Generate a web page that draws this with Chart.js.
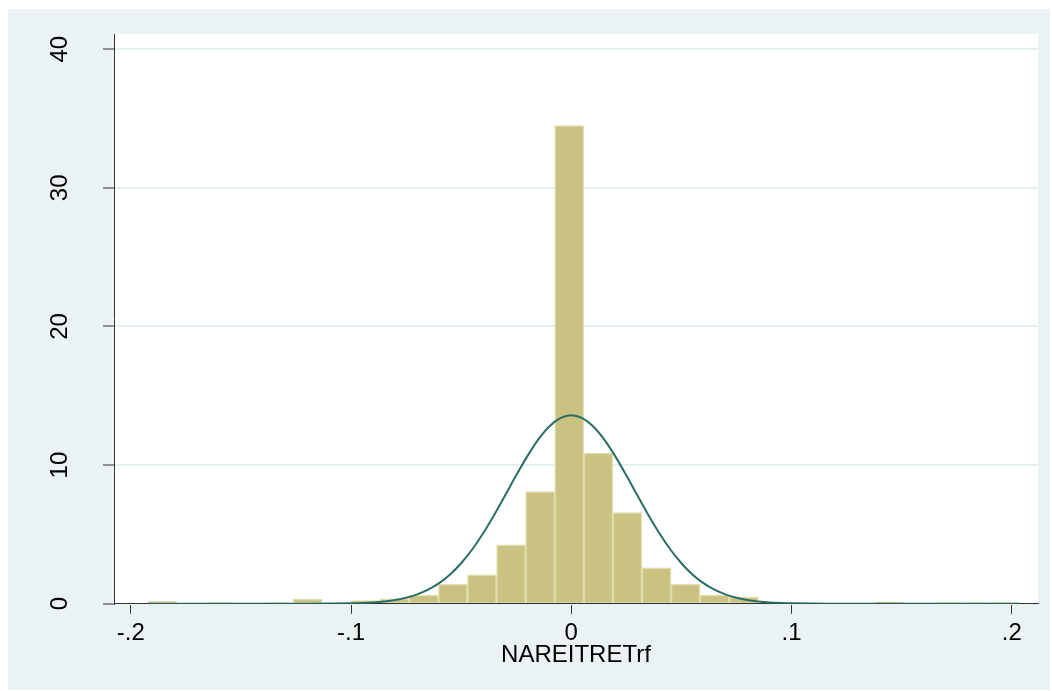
<!DOCTYPE html>
<html>
<head>
<meta charset="utf-8">
<script src="https://cdn.jsdelivr.net/npm/chart.js@4.4.1/dist/chart.umd.min.js"></script>
<style>
  html, body { margin: 0; padding: 0; background: #fff; }
  #frame { position: absolute; left: 8px; top: 9px; width: 1042px; height: 681px; background: #eaf2f3; }
</style>
</head>
<body>
<div id="frame"><canvas id="histo" width="1042" height="681"></canvas></div>
<script>
// histogram bins (mid points) and densities
var binMid = [-0.1857, -0.1725, -0.1593, -0.1461, -0.1329, -0.1197, -0.1065, -0.0933, -0.0801, -0.0669,
              -0.0537, -0.0405, -0.0273, -0.0141, -0.0009, 0.0123, 0.0255, 0.0387, 0.0519, 0.0651,
              0.0783, 0.0915, 0.1047, 0.1179, 0.1311, 0.1443, 0.1575, 0.1707, 0.1839, 0.1971];
var density = [0.15, 0, 0.07, 0, 0.07, 0.34, 0, 0.23, 0.36, 0.62,
               1.39, 2.08, 4.24, 8.09, 34.5, 10.86, 6.57, 2.58, 1.39, 0.63,
               0.48, 0.12, 0, 0, 0, 0.12, 0, 0.05, 0.05, 0.05];
// normal density overlay
var curveX = [-0.192, -0.13, -0.12, -0.11, -0.1, -0.095, -0.09, -0.085, -0.08, -0.075, -0.07, -0.065, -0.06,
              -0.055, -0.05, -0.045, -0.04, -0.035, -0.03, -0.025, -0.02, -0.015, -0.01, -0.005, 0,
              0.005, 0.01, 0.015, 0.02, 0.025, 0.03, 0.035, 0.04, 0.045, 0.05, 0.055, 0.06,
              0.065, 0.07, 0.075, 0.08, 0.085, 0.09, 0.095, 0.1, 0.11, 0.12, 0.13, 0.2035];
var curveY = [0, 0, 0.002, 0.008, 0.029, 0.053, 0.093, 0.16, 0.26, 0.43, 0.67, 1.01, 1.48,
              2.11, 2.92, 3.91, 5.08, 6.40, 7.82, 9.26, 10.63, 11.84, 12.79, 13.39, 13.6,
              13.39, 12.79, 11.84, 10.63, 9.26, 7.82, 6.40, 5.08, 3.91, 2.92, 2.11, 1.48,
              1.01, 0.67, 0.43, 0.26, 0.16, 0.093, 0.053, 0.029, 0.008, 0.002, 0, 0];
var xTicks = [-0.2, -0.1, 0, 0.1, 0.2];
var xTickText = ["-.2", "-.1", "0", ".1", ".2"];
var yTicks = [0, 10, 20, 30, 40];

var fontFam = "'Liberation Sans', Arial, Helvetica, sans-serif";

var plotBg = {
  id: 'plotBg',
  beforeDraw: function(chart) {
    var a = chart.chartArea, ctx = chart.ctx;
    ctx.save();
    ctx.fillStyle = '#ffffff';
    ctx.fillRect(a.left, a.top, a.right - a.left, a.bottom - a.top);
    ctx.restore();
  }
};

// stata style vertical y labels
var yLabels = {
  id: 'yLabels',
  afterDraw: function(chart) {
    var s = chart.scales.y, ctx = chart.ctx;
    ctx.save();
    ctx.fillStyle = '#000';
    ctx.font = '24px ' + fontFam;
    ctx.textAlign = 'center';
    ctx.textBaseline = 'middle';
    yTicks.forEach(function(v) {
      ctx.save();
      ctx.translate(52.5, s.getPixelForValue(v));
      ctx.rotate(-Math.PI / 2);
      ctx.fillText(String(v), 0, 0);
      ctx.restore();
    });
    ctx.restore();
  }
};

new Chart(document.getElementById('histo'), {
  type: 'bar',
  data: {
    datasets: [{
      type: 'line',
      data: curveX.map(function(x, i) { return {x: x, y: curveY[i]}; }),
      borderColor: '#2b6e64',
      borderWidth: 2,
      pointRadius: 0,
      cubicInterpolationMode: 'monotone',
      fill: false,
      order: 0
    }, {
      type: 'bar',
      data: binMid.map(function(x, i) { return {x: x, y: density[i]}; }),
      backgroundColor: '#c9c282',
      borderColor: '#e0dcab',
      borderWidth: 1.5,
      borderSkipped: 'bottom',
      barPercentage: 1,
      categoryPercentage: 1,
      order: 1
    }]
  },
  options: {
    responsive: false,
    animation: false,
    events: [],
    layout: { padding: { top: 25, right: 12, bottom: 0, left: 0 } },
    plugins: { legend: { display: false }, tooltip: { enabled: false } },
    scales: {
      x: {
        type: 'linear',
        min: -0.2076,
        max: 0.2119,
        offset: false,
        afterFit: function(s) { s.height = 86.3; },
        afterBuildTicks: function(s) { s.ticks = xTicks.map(function(v) { return {value: v}; }); },
        grid: { offset: false, drawOnChartArea: false, drawTicks: true, tickLength: 10, tickColor: '#333', tickWidth: 1 },
        border: { color: '#333', width: 1 },
        ticks: {
          color: '#000',
          padding: 5,
          maxRotation: 0,
          font: { family: fontFam, size: 24 },
          callback: function(v, i) { return xTickText[i]; }
        },
        title: {
          display: true,
          text: 'NAREITRETrf',
          color: '#000',
          font: { family: fontFam, size: 24 },
          padding: { top: 0, bottom: 20 }
        }
      },
      y: {
        min: 0,
        max: 41.1,
        afterFit: function(s) { s.width = 106; },
        afterBuildTicks: function(s) { s.ticks = yTicks.map(function(v) { return {value: v}; }); },
        grid: { color: '#e6eff1', lineWidth: 2, tickLength: 11, tickColor: '#333', tickWidth: 1 },
        border: { color: '#333', width: 1 },
        ticks: { display: false }
      }
    }
  },
  plugins: [plotBg, yLabels]
});
</script>
</body>
</html>
